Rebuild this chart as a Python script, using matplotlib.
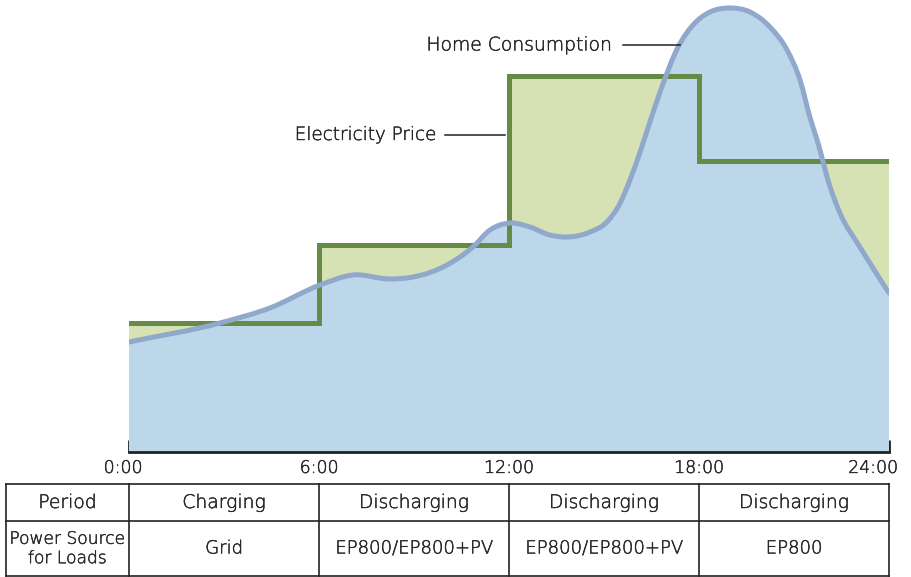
"""plot.py — electricity price steps vs home consumption curve, with period table -> out.png"""
import numpy as np
import matplotlib
matplotlib.use("Agg")
import matplotlib.pyplot as plt
import matplotlib.transforms as mtrans
import matplotlib.patheffects as pe
from matplotlib.path import Path
from matplotlib.patches import PathPatch

# price tiers (step, constant from each start hour to the next)
price_hours = [0, 6, 12, 18, 24]
price_level = [129, 207, 376, 291, 291]

# home consumption (hour, level)
cons_hours = [0.00, 2.87, 4.45, 6.03, 7.07, 8.24, 8.97, 10.04, 10.86, 11.40,
              12.03, 12.66, 13.29, 13.83, 14.56, 15.09, 15.51, 15.82, 16.14,
              16.45, 16.77, 17.34, 17.81, 18.35, 18.98, 19.61, 20.24, 20.78,
              21.19, 21.51, 21.73, 22.14, 22.45, 23.08, 24.00]
cons_level = [110, 129, 144, 167, 177, 173, 175, 187, 205, 222,
              229, 225, 217, 215, 220, 230, 249, 272, 300,
              330, 360, 405, 427, 440, 444, 440, 425, 402,
              372, 334, 312, 265, 239, 205, 159]

tick_hours = [0, 6, 12, 18, 24]
tick_labels = ["0:00", "6:00", "12:00", "18:00", "24:00"]

row_headers = ["Period", "Power Source\nfor Loads"]
periods = ["Charging", "Discharging", "Discharging", "Discharging"]
sources = ["Grid", "EP800/EP800+PV", "EP800/EP800+PV", "EP800"]

GREEN_LINE = "#668b46"
GREEN_FILL = "#d6e2b4"
BLUE_LINE = "#8fa8cb"
BLUE_FILL = "#bcd6ea"
TEXT = "#262626"
INK = "#222222"

plt.rcParams["font.family"] = ["DejaVu Sans"]
plt.rcParams["font.weight"] = "light"
thicken = [pe.withStroke(linewidth=0.3, foreground=TEXT)]


def smooth_verts(xs, ys):
    """Cubic Hermite through the points (3-point slopes), as Bezier path pieces."""
    x = np.asarray(xs, float)
    y = np.asarray(ys, float)
    h = np.diff(x)
    d = np.diff(y) / h
    m = np.empty_like(y)
    m[0], m[-1] = d[0], d[-1]
    m[1:-1] = (d[:-1] * h[1:] + d[1:] * h[:-1]) / (h[:-1] + h[1:])
    verts, codes = [(x[0], y[0])], [Path.MOVETO]
    for i in range(len(h)):
        verts += [(x[i] + h[i] / 3, y[i] + m[i] * h[i] / 3),
                  (x[i + 1] - h[i] / 3, y[i + 1] - m[i + 1] * h[i] / 3),
                  (x[i + 1], y[i + 1])]
        codes += [Path.CURVE4] * 3
    return verts, codes


fig = plt.figure(figsize=(9.11, 5.77), dpi=100)
W, H = 911, 577
ax = fig.add_axes([129 / W, (H - 452) / H, 760 / W, 452 / H])
ax.set_xlim(0, 24)
ax.set_ylim(0, 452)

# price area
ax.fill_between(price_hours, price_level, step="post", color=GREEN_FILL, lw=0, zorder=1)

# consumption area
verts, codes = smooth_verts(cons_hours, cons_level)
fill_v = verts + [(24, 0), (0, 0), (0, cons_level[0])]
fill_c = codes + [Path.LINETO, Path.LINETO, Path.CLOSEPOLY]
ax.add_patch(PathPatch(Path(fill_v, fill_c), facecolor=BLUE_FILL, edgecolor="none", zorder=2))

ax.step(price_hours, price_level, where="post", color=GREEN_LINE, lw=3.6, zorder=3,
        solid_joinstyle="miter")
ax.add_patch(PathPatch(Path(verts, codes), facecolor="none", edgecolor=BLUE_LINE,
                       lw=3.6, capstyle="round", zorder=4))

for s in ["top", "right", "left"]:
    ax.spines[s].set_visible(False)
ax.spines["bottom"].set_linewidth(2)
ax.spines["bottom"].set_color(INK)
ax.set_yticks([])
ax.set_xticks(tick_hours)
ax.set_xticklabels(tick_labels)
ax.tick_params(axis="x", direction="in", length=9, width=2, color=INK,
               labelsize=12.5, labelcolor=TEXT, pad=5)
ax.patch.set_alpha(0)
lbls = ax.get_xticklabels()
for t in lbls:
    t.set_path_effects(thicken)
lbls[0].set_transform(lbls[0].get_transform()
                      + mtrans.ScaledTranslation(-6 / 100, 0, fig.dpi_scale_trans))
lbls[-1].set_ha("right")
lbls[-1].set_transform(lbls[-1].get_transform()
                       + mtrans.ScaledTranslation(9 / 100, 0, fig.dpi_scale_trans))

# leader labels
ax.plot([15.6, 17.4], [407, 407], color=INK, lw=1.1, zorder=5)
ax.text(15.25, 407, "Home Consumption", ha="right", va="center", fontsize=13.5,
        color=TEXT, path_effects=thicken)
ax.plot([9.98, 11.87], [317, 317], color=INK, lw=1.1, zorder=5)
ax.text(9.73, 317, "Electricity Price", ha="right", va="center", fontsize=13.2,
        color=TEXT, path_effects=thicken)

# table drawn in pixel coordinates
tab = fig.add_axes([0, 0, 1, 1])
tab.set_xlim(0, W)
tab.set_ylim(H, 0)
tab.axis("off")
col_edges = [6, 129, 319, 509, 699, 889]
row_edges = [484, 521, 576]
for y in row_edges:
    tab.plot([col_edges[0], col_edges[-1]], [y, y], color=INK, lw=1.2)
for x in col_edges:
    tab.plot([x, x], [row_edges[0], row_edges[-1]], color=INK, lw=1.2)

rows = [[row_headers[0]] + periods, [row_headers[1]] + sources]
for r, cells in enumerate(rows):
    yc = (row_edges[r] + row_edges[r + 1]) / 2
    for c, txt in enumerate(cells):
        xc = (col_edges[c] + col_edges[c + 1]) / 2
        fs = 13.5 if r == 0 else (12.3 if c == 0 else 13)
        tab.text(xc, yc, txt, ha="center", va="center", fontsize=fs, color=TEXT,
                 linespacing=1.1, path_effects=thicken)

fig.savefig("out.png", dpi=100)
